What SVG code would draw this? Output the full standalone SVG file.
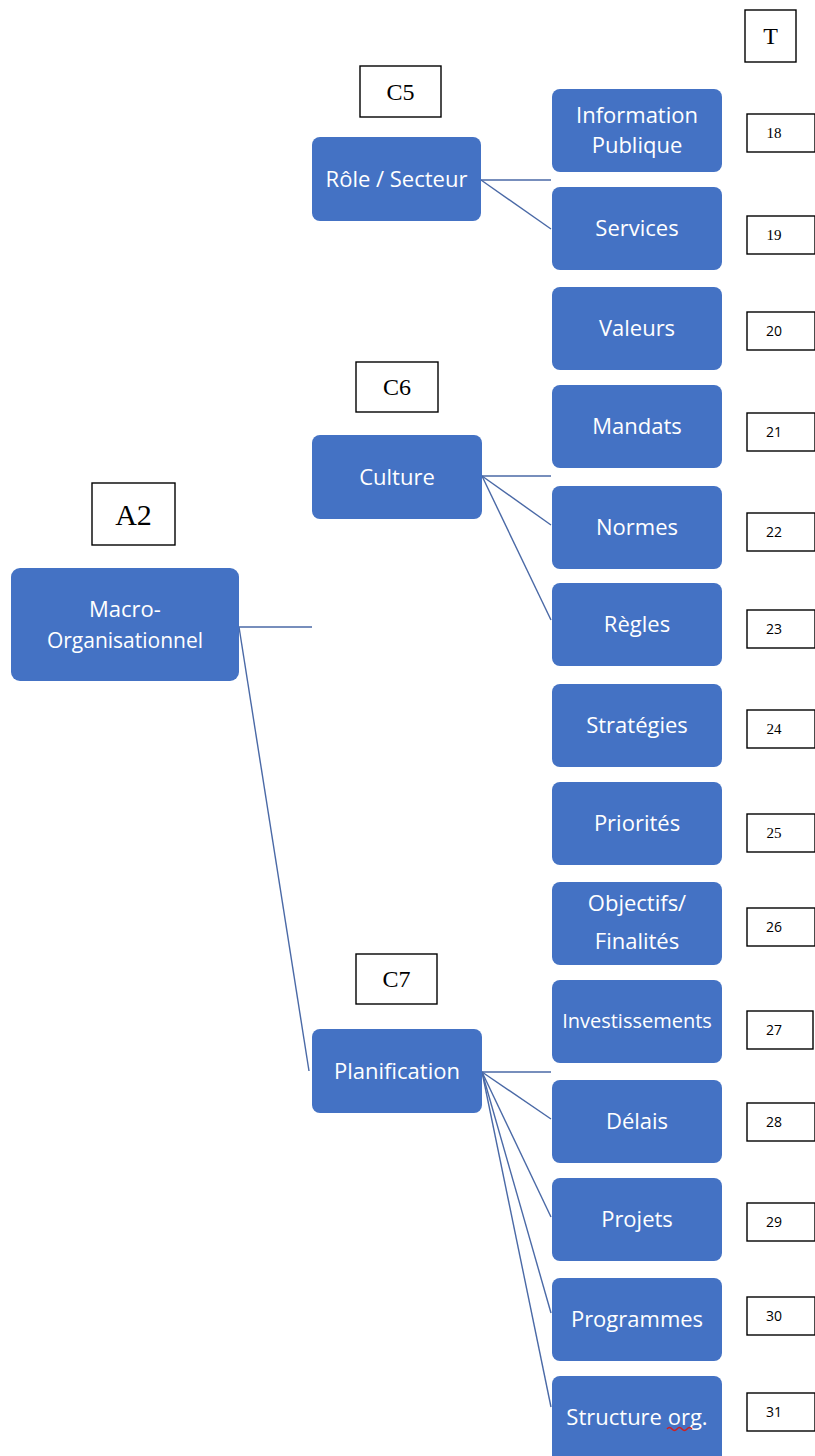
<svg xmlns="http://www.w3.org/2000/svg" width="815" height="1456" viewBox="0 0 815 1456">
<style>
.node rect{fill:#4472C4;}
.node text{fill:#ffffff;font-family:"Open Sans","Noto Sans",sans-serif;font-size:22px;text-anchor:middle;}
.lbl rect{fill:#ffffff;stroke:#000000;stroke-width:1.4;}
.lbl text{fill:#000000;font-family:"Liberation Serif",serif;text-anchor:middle;}
.num text{font-size:15px;}
.num text.s{font-family:"Open Sans",sans-serif;font-size:14px;}
#connectors line{stroke:#4a69a6;stroke-width:1.4;}
</style>
<rect width="815" height="1456" fill="#ffffff"/>
<g id="connectors">
<line x1="239" y1="627" x2="312" y2="627"/>
<line x1="239" y1="627" x2="309" y2="1071"/>
<line x1="481" y1="180" x2="551" y2="180"/>
<line x1="481" y1="180" x2="551" y2="229"/>
<line x1="482" y1="476" x2="551" y2="476"/>
<line x1="482" y1="476" x2="551" y2="525"/>
<line x1="482" y1="476" x2="551" y2="620"/>
<line x1="482" y1="1072" x2="551" y2="1072"/>
<line x1="482" y1="1072" x2="551" y2="1119"/>
<line x1="482" y1="1072" x2="551" y2="1217"/>
<line x1="482" y1="1072" x2="551" y2="1313"/>
<line x1="482" y1="1072" x2="551" y2="1407"/>
</g>
<g id="macro" class="node"><rect x="11" y="568" width="228" height="113" rx="9"/><text x="125" y="617">Macro-</text><text x="125" y="648" style="font-size:21px">Organisationnel</text></g>
<g id="role" class="node"><rect x="312" y="137" width="169" height="84" rx="8"/><text x="396.5" y="187">Rôle / Secteur</text></g>
<g id="culture" class="node"><rect x="312" y="435" width="170" height="84" rx="8"/><text x="397" y="485">Culture</text></g>
<g id="planification" class="node"><rect x="312" y="1029" width="170" height="84" rx="8"/><text x="397" y="1079">Planification</text></g>
<g id="info" class="node"><rect x="552" y="89" width="170" height="83" rx="8"/><text x="637" y="123">Information</text><text x="637" y="153">Publique</text></g>
<g id="services" class="node"><rect x="552" y="187" width="170" height="83" rx="8"/><text x="637" y="236">Services</text></g>
<g id="valeurs" class="node"><rect x="552" y="287" width="170" height="83" rx="8"/><text x="637" y="336">Valeurs</text></g>
<g id="mandats" class="node"><rect x="552" y="385" width="170" height="83" rx="8"/><text x="637" y="434">Mandats</text></g>
<g id="normes" class="node"><rect x="552" y="486" width="170" height="83" rx="8"/><text x="637" y="535">Normes</text></g>
<g id="regles" class="node"><rect x="552" y="583" width="170" height="83" rx="8"/><text x="637" y="632">Règles</text></g>
<g id="strategies" class="node"><rect x="552" y="684" width="170" height="83" rx="8"/><text x="637" y="733">Stratégies</text></g>
<g id="priorites" class="node"><rect x="552" y="782" width="170" height="83" rx="8"/><text x="637" y="831">Priorités</text></g>
<g id="objectifs" class="node"><rect x="552" y="882" width="170" height="83" rx="8"/><text x="637" y="911">Objectifs/</text><text x="637" y="949">Finalités</text></g>
<g id="investissements" class="node"><rect x="552" y="980" width="170" height="83" rx="8"/><text x="637" y="1028" style="font-size:20px">Investissements</text></g>
<g id="delais" class="node"><rect x="552" y="1080" width="170" height="83" rx="8"/><text x="637" y="1129">Délais</text></g>
<g id="projets" class="node"><rect x="552" y="1178" width="170" height="83" rx="8"/><text x="637" y="1227">Projets</text></g>
<g id="programmes" class="node"><rect x="552" y="1278" width="170" height="83" rx="8"/><text x="637" y="1327">Programmes</text></g>
<g id="structure" class="node"><rect x="552" y="1376" width="170" height="90" rx="8"/><text x="637" y="1425">Structure org.</text></g>
<path d="M667 1429 q2.5 -3 5 0 t5 0 t5 0 t5 0 t5 0" fill="none" stroke="#d02020" stroke-width="1.5"/>
<g id="lbl-T" class="lbl"><rect x="745" y="10" width="51" height="52"/><text x="770.5" y="44" font-size="24">T</text></g>
<g id="lbl-C5" class="lbl"><rect x="360" y="66" width="81" height="51"/><text x="400.5" y="100" font-size="24">C5</text></g>
<g id="lbl-C6" class="lbl"><rect x="356" y="362" width="82" height="50"/><text x="397" y="395" font-size="24">C6</text></g>
<g id="lbl-C7" class="lbl"><rect x="356" y="954" width="81" height="50"/><text x="396.5" y="987" font-size="24">C7</text></g>
<g id="lbl-A2" class="lbl"><rect x="92" y="483" width="83" height="62"/><text x="133.5" y="525" font-size="30">A2</text></g>
<g id="n18" class="lbl num"><rect x="747" y="114" width="68" height="38"/><text x="774" y="138">18</text></g>
<g id="n19" class="lbl num"><rect x="747" y="216" width="68" height="38"/><text x="774" y="240">19</text></g>
<g id="n20" class="lbl num"><rect x="747" y="312" width="68" height="38"/><text class="s" x="774" y="336">20</text></g>
<g id="n21" class="lbl num"><rect x="747" y="413" width="68" height="38"/><text class="s" x="774" y="437">21</text></g>
<g id="n22" class="lbl num"><rect x="747" y="513" width="68" height="38"/><text class="s" x="774" y="537">22</text></g>
<g id="n23" class="lbl num"><rect x="747" y="610" width="68" height="38"/><text class="s" x="774" y="634">23</text></g>
<g id="n24" class="lbl num"><rect x="747" y="710" width="68" height="38"/><text x="774" y="734">24</text></g>
<g id="n25" class="lbl num"><rect x="747" y="814" width="68" height="38"/><text x="774" y="838">25</text></g>
<g id="n26" class="lbl num"><rect x="747" y="908" width="68" height="38"/><text class="s" x="774" y="932">26</text></g>
<g id="n27" class="lbl num"><rect x="747" y="1011" width="66" height="38"/><text class="s" x="774" y="1035">27</text></g>
<g id="n28" class="lbl num"><rect x="747" y="1103" width="68" height="38"/><text class="s" x="774" y="1127">28</text></g>
<g id="n29" class="lbl num"><rect x="747" y="1203" width="68" height="38"/><text class="s" x="774" y="1227">29</text></g>
<g id="n30" class="lbl num"><rect x="747" y="1297" width="68" height="38"/><text class="s" x="774" y="1321">30</text></g>
<g id="n31" class="lbl num"><rect x="747" y="1393" width="68" height="38"/><text class="s" x="774" y="1417">31</text></g>
</svg>
